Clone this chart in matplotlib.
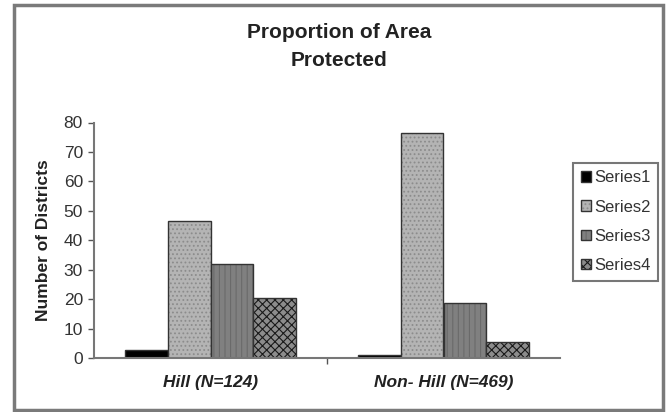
import matplotlib
matplotlib.use("Agg")
import matplotlib.pyplot as plt
import numpy as np
from matplotlib.patches import Rectangle

plt.rcParams['font.family'] = ['Liberation Sans', 'DejaVu Sans']
plt.rcParams['hatch.linewidth'] = 0.8

categories = ["Hill (N=124)", "Non- Hill (N=469)"]
series_names = ["Series1", "Series2", "Series3", "Series4"]
series1 = [2.8, 0.9]
series2 = [46.5, 76.5]
series3 = [31.8, 18.8]
series4 = [20.5, 5.6]
values = [series1, series2, series3, series4]

colors = ["#000000", "#b4b4b4", "#808080", "#8c8c8c"]
hatches = [None, "....", "|||", "xxxx"]
hatch_cols = ["#000000", "#8c8c8c", "#6a6a6a", "#1a1a1a"]

fig = plt.figure(figsize=(6.66, 4.12), dpi=100)
# outer frame
fig.patches.append(Rectangle((14/666, 2/412), 649/666, 405/412, transform=fig.transFigure,
                             fill=False, edgecolor="#7a7a7a", linewidth=2.5))

ax = fig.add_axes([94/666, 54/412, 466/666, 235.5/412])
x = np.arange(len(categories))
w = 0.1825
for i, vals in enumerate(values):
    pos = x + (i - 1.5) * w
    bars = ax.bar(pos, vals, width=w, color=colors[i], edgecolor="#333333",
                  linewidth=1.0, hatch=hatches[i], label=series_names[i])
    for b in bars:
        b._hatch_color = matplotlib.colors.to_rgba(hatch_cols[i])

ax.set_xlim(-0.5, 1.5)
ax.set_ylim(0, 80)
ax.set_yticks(range(0, 81, 10))
ax.set_xticks([0.5], minor=True)
ax.set_xticks(x)
ax.set_xticklabels(categories, fontsize=12.5, fontweight="bold", fontstyle="italic")
ax.tick_params(axis="x", which="major", length=0, pad=12, labelcolor="#222222")
ax.tick_params(axis="x", which="minor", length=4, width=1, color="#555555")
ax.tick_params(axis="y", length=4, width=1, color="#555555", labelsize=12.5, pad=4,
               labelcolor="#333333")
for s in ["top", "right"]:
    ax.spines[s].set_visible(False)
for s in ["left", "bottom"]:
    ax.spines[s].set_color("#777777")
    ax.spines[s].set_linewidth(1.5)
ax.set_ylabel("Number of Districts", fontsize=12.5, fontweight="bold", labelpad=9,
              color="#222222")

fig.text(339/666, 1 - 47/412, "Proportion of Area\nProtected", ha="center", va="center",
         fontsize=15, fontweight="bold", linespacing=1.6, color="#222222")

leg = fig.legend(loc="upper left", bbox_to_anchor=(573/666, 1 - 163/412), fontsize=12,
                 frameon=True, fancybox=False, edgecolor="#555555", handlelength=0.6,
                 handleheight=0.6, handletextpad=0.2, borderpad=0.45, labelspacing=0.85,
                 borderaxespad=0)
leg.get_frame().set_linewidth(1.5)
for t in leg.get_texts():
    t.set_color("#333333")

fig.savefig("out.png", dpi=100)
